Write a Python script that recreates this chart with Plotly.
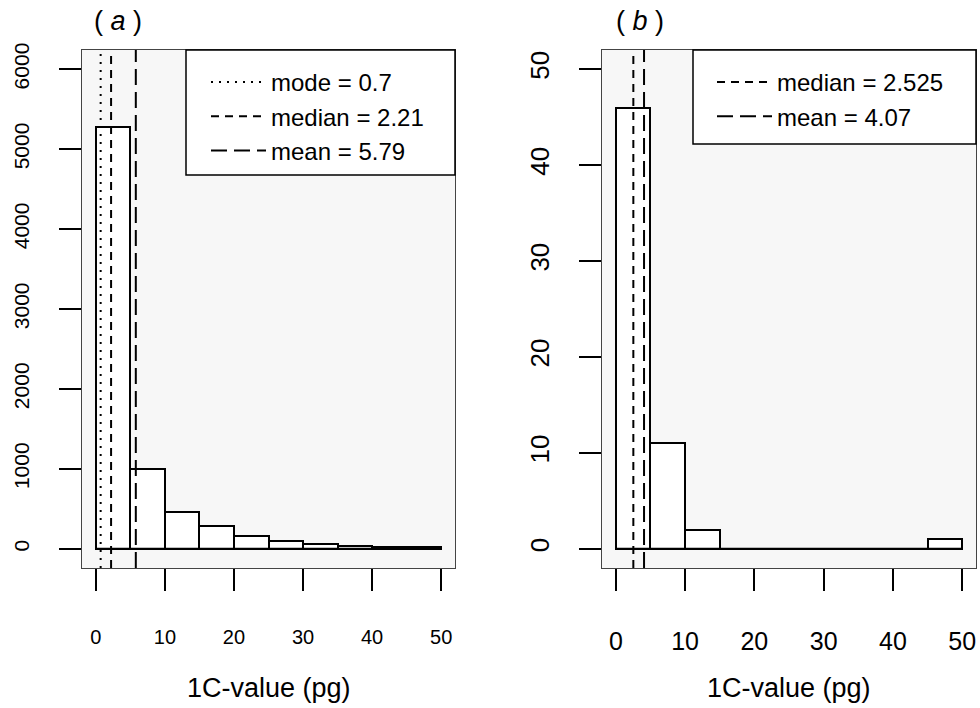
import plotly.graph_objects as go

# ---- data ----
bin_edges = [0, 5, 10, 15, 20, 25, 30, 35, 40, 45, 50]
counts_a = [5280, 995, 465, 287, 162, 100, 66, 41, 29, 18]
counts_b = [46, 11, 2, 0, 0, 0, 0, 0, 0, 1]

stat_names_a = ["mode = 0.7", "median = 2.21", "mean = 5.79"]
stat_values_a = [0.7, 2.21, 5.79]
stat_dash_a = ["2px,6px", "8px,6px", "16px,7px"]

stat_names_b = ["median = 2.525", "mean = 4.07"]
stat_values_b = [2.525, 4.07]
stat_dash_b = ["8px,6px", "16px,7px"]

x_ticks = [0, 10, 20, 30, 40, 50]
y_ticks_a = [0, 1000, 2000, 3000, 4000, 5000, 6000]
y_ticks_b = [0, 10, 20, 30, 40, 50]

panel_labels = ["( <i>a</i> )", "( <i>b</i> )"]
x_title = "1C-value (pg)"

x_range = [-2, 52]
y_range_a = [-240, 6240]
y_range_b = [-2, 52]

FONT = "Liberation Sans, Arial, Helvetica, sans-serif"

centers = [(bin_edges[i] + bin_edges[i + 1]) / 2 for i in range(len(bin_edges) - 1)]
widths = [bin_edges[i + 1] - bin_edges[i] for i in range(len(bin_edges) - 1)]

fig = go.Figure()

def add_panel(counts, xa, ya, yrange, names, values, dashes, legend):
    fig.add_trace(go.Bar(
        x=centers, y=counts, width=widths, xaxis=xa, yaxis=ya,
        marker=dict(color="white", line=dict(color="black", width=2)),
        showlegend=False, hoverinfo="x+y",
    ))
    # histogram baseline (zero-height bins)
    fig.add_trace(go.Scatter(
        x=[bin_edges[0], bin_edges[-1]], y=[0, 0], xaxis=xa, yaxis=ya,
        mode="lines", line=dict(color="black", width=2), showlegend=False,
        hoverinfo="skip",
    ))
    for n, v, d in zip(names, values, dashes):
        fig.add_trace(go.Scatter(
            x=[v, v], y=yrange, xaxis=xa, yaxis=ya, mode="lines", name=n,
            line=dict(color="black", width=2, dash=d), legend=legend,
        ))

add_panel(counts_a, "x", "y", y_range_a, stat_names_a, stat_values_a, stat_dash_a, "legend")
add_panel(counts_b, "x2", "y2", y_range_b, stat_names_b, stat_values_b, stat_dash_b, "legend2")

W, H = 980, 708
ydom = [1 - 568 / H, 1 - 50 / H]

def xaxis_cfg(dom, fs):
    return dict(
        domain=dom, range=x_range, tickvals=x_ticks, ticks="outside", ticklen=22,
        tickwidth=1.5, tickcolor="black", showgrid=False, zeroline=False,
        showline=True, mirror=True, linecolor="#444", linewidth=1,
        tickfont=dict(family=FONT, size=fs, color="black"),
        ticklabelstandoff=29, fixedrange=True,
    )

def yaxis_cfg(rng, ticks, fs, anchor, standoff):
    return dict(
        domain=ydom, range=rng, tickvals=ticks, ticks="outside", ticklen=22,
        tickwidth=1.5, tickcolor="black", showgrid=False, zeroline=False,
        showline=True, mirror=True, linecolor="#444", linewidth=1,
        tickangle=-90, tickfont=dict(family=FONT, size=fs, color="black"),
        ticklabelstandoff=standoff, anchor=anchor, fixedrange=True,
    )

LEG_FONT = dict(family=FONT, size=24, color="black")
fig.update_layout(
    width=W, height=H, margin=dict(l=0, r=0, t=0, b=0, autoexpand=False),
    paper_bgcolor="white", plot_bgcolor="#f7f7f7",
    barmode="overlay", bargap=0,
    font=dict(family=FONT, color="black"),
    xaxis=xaxis_cfg([82 / W, 455 / W], 20),
    yaxis=yaxis_cfg(y_range_a, y_ticks_a, 21, "x", 22),
    xaxis2=xaxis_cfg([602 / W, 976 / W], 25),
    yaxis2=yaxis_cfg(y_range_b, y_ticks_b, 26, "x2", 20),
    legend=dict(x=206 / W, y=1 - 60 / H, xanchor="left", yanchor="top",
                bgcolor="rgba(0,0,0,0)", borderwidth=0, itemwidth=55,
                font=LEG_FONT, tracegroupgap=0),
    legend2=dict(x=712 / W, y=1 - 60 / H, xanchor="left", yanchor="top",
                 bgcolor="rgba(0,0,0,0)", borderwidth=0, itemwidth=55,
                 font=LEG_FONT, tracegroupgap=0),
    showlegend=True,
)

# legend boxes (R style, attached to the top-right corner of each plot)
fig.add_shape(type="rect", xref="x domain", yref="y domain",
              x0=(186 - 82) / 373, x1=1, y0=(568 - 175) / 518, y1=1,
              fillcolor="white", line=dict(color="black", width=1.5), layer="above")
fig.add_shape(type="rect", xref="x2 domain", yref="y2 domain",
              x0=(693 - 602) / 374, x1=1, y0=(568 - 144) / 518, y1=1,
              fillcolor="white", line=dict(color="black", width=1.5), layer="above")

# panel labels
for lab, xc in zip(panel_labels, [118, 640]):
    fig.add_annotation(text=lab, x=xc / W, y=1 - 21 / H, xref="paper", yref="paper",
                       xanchor="center", yanchor="middle", showarrow=False,
                       font=dict(family=FONT, size=27, color="black"))
# axis titles
for xc in [268.5, 789]:
    fig.add_annotation(text=x_title, x=xc / W, y=1 - 688 / H, xref="paper", yref="paper",
                       xanchor="center", yanchor="middle", showarrow=False,
                       font=dict(family=FONT, size=27, color="black"))

fig.write_html("out.html", config={"displayModeBar": False},
               post_script="document.body.style.margin='0';")
